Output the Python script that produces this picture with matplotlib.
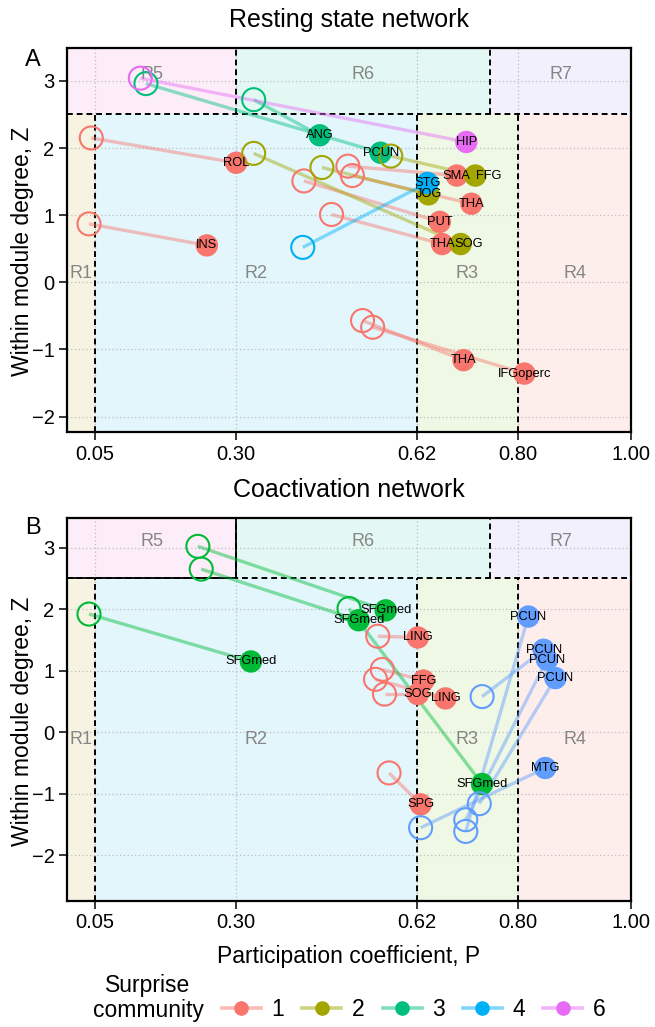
import matplotlib
matplotlib.use("Agg")
import matplotlib.pyplot as plt
import matplotlib.colors as mcolors
from matplotlib.lines import Line2D
from matplotlib.patches import Rectangle

plt.rcParams["font.family"] = ["Liberation Sans", "DejaVu Sans"]

# --- role cartography boundaries --------------------------------------------
P_MIN, P_MAX = 0.0, 1.0
P_NONHUB = [0.05, 0.62, 0.80]   # R1 | R2 | R3 | R4
P_HUB = [0.30, 0.75]            # R5 | R6 | R7
Z_HUB = 2.5
X_TICKS = [0.05, 0.30, 0.62, 0.80, 1.00]
Y_TICKS = [-2, -1, 0, 1, 2, 3]
NONHUB_NAMES = ["R1", "R2", "R3", "R4"]
HUB_NAMES = ["R5", "R6", "R7"]
NONHUB_FILL = ["#F7F3E2", "#E2F6FC", "#EEF8E4", "#FDEEEC"]
HUB_FILL = ["#FCEDF8", "#E3F8F2", "#F1F0FC"]

COLORS_A = {1: "#F8766D", 2: "#A3A500", 3: "#00BF7D", 4: "#00B0F6", 6: "#E76BF3"}
COLORS_B = {1: "#F8766D", 3: "#00BA38", 4: "#619CFF"}

# --- panel A: resting state network (open = before, filled = after) --------
A_comm = [1, 1, 1, 1, 1, 1, 1, 1, 2, 2, 2, 3, 3, 4, 6]
A_p_from = [0.043, 0.039, 0.498, 0.506, 0.420, 0.469, 0.524, 0.542,
            0.331, 0.452, 0.574, 0.140, 0.331, 0.418, 0.130]
A_z_from = [2.15, 0.87, 1.73, 1.59, 1.51, 1.01, -0.57, -0.67,
            1.92, 1.71, 1.88, 2.96, 2.72, 0.52, 3.04]
A_p_to = [0.300, 0.248, 0.691, 0.717, 0.661, 0.665, 0.703, 0.811,
          0.698, 0.641, 0.724, 0.556, 0.448, 0.639, 0.708]
A_z_to = [1.78, 0.55, 1.59, 1.17, 0.90, 0.57, -1.16, -1.36,
          0.57, 1.31, 1.59, 1.93, 2.19, 1.48, 2.09]
A_label = ["ROL", "INS", "SMA", "THA", "PUT", "THA", "THA", "IFGoperc",
           "SOG", "JOG", "FFG", "PCUN", "ANG", "STG", "HIP"]

# --- panel B: coactivation network -------------------------------------------
B_comm = [1, 1, 1, 1, 1, 3, 3, 3, 3, 4, 4, 4, 4, 4]
B_p_from = [0.551, 0.559, 0.547, 0.563, 0.571,
            0.039, 0.232, 0.238, 0.500,
            0.736, 0.627, 0.731, 0.707, 0.707]
B_z_from = [1.56, 1.02, 0.86, 0.62, -0.66,
            1.92, 3.02, 2.65, 2.01,
            0.58, -1.55, -1.16, -1.42, -1.61]
B_p_to = [0.622, 0.632, 0.671, 0.622, 0.627,
          0.326, 0.565, 0.517, 0.736,
          0.845, 0.848, 0.866, 0.851, 0.818]
B_z_to = [1.54, 0.84, 0.55, 0.62, -1.17,
          1.15, 1.98, 1.82, -0.84,
          1.34, -0.58, 0.88, 1.18, 1.88]
B_label = ["LING", "FFG", "LING", "SOG", "SPG",
           "SFGmed", "SFGmed", "SFGmed", "SFGmed",
           "PCUN", "MTG", "PCUN", "PCUN", "PCUN"]

LEGEND_COMM = [1, 2, 3, 4, 6]

W, H = 655, 1027


def lighten(c, amount=0.5):
    r, g, b = mcolors.to_rgb(c)
    return (r + (1 - r) * amount, g + (1 - g) * amount, b + (1 - b) * amount)


def draw_panel(ax, comm, p0, z0, p1, z1, labels, colors, ylim,
               r5_solid=False, nudge=None):
    nudge = nudge or {}
    y0, y1 = ylim
    ax.set_xlim(P_MIN, P_MAX)
    ax.set_ylim(y0, y1)

    # role regions
    edges = [P_MIN] + P_NONHUB + [P_MAX]
    for i, name in enumerate(NONHUB_NAMES):
        a, b = edges[i], edges[i + 1]
        ax.add_patch(Rectangle((a, y0), b - a, Z_HUB - y0, color=NONHUB_FILL[i],
                               lw=0, zorder=0))
        ax.text((a + b) / 2, (y0 + Z_HUB) / 2, name, ha="center", va="center",
                color="#858585", fontsize=13, zorder=1)
    edges = [P_MIN] + P_HUB + [P_MAX]
    for i, name in enumerate(HUB_NAMES):
        a, b = edges[i], edges[i + 1]
        ax.add_patch(Rectangle((a, Z_HUB), b - a, y1 - Z_HUB, color=HUB_FILL[i],
                               lw=0, zorder=0))
        ax.text((a + b) / 2, 3.1, name, ha="center", va="center",
                color="#858585", fontsize=13, zorder=1)

    # dotted grid
    for x in X_TICKS:
        ax.axvline(x, color="#BDBDBD", lw=0.9, ls=(0, (1, 2)), zorder=0.5)
    for y in Y_TICKS:
        ax.axhline(y, color="#BDBDBD", lw=0.9, ls=(0, (1, 2)), zorder=0.5)

    # dashed boundaries
    dash = dict(color="black", lw=1.4, ls=(0, (3, 2)), zorder=1.5)
    ax.plot([P_MIN, P_MAX], [Z_HUB, Z_HUB], **dash)
    for x in P_NONHUB:
        ax.plot([x, x], [y0, Z_HUB], **dash)
    for x in P_HUB:
        ax.plot([x, x], [Z_HUB, y1], **dash)
    if r5_solid:
        ax.plot([P_MIN, P_HUB[0], P_HUB[0]], [Z_HUB, Z_HUB, y1],
                color="black", lw=1.3, zorder=1.6)

    # trajectories
    for c, a, b, c2, d in zip(comm, p0, z0, p1, z1):
        ax.plot([a, c2], [b, d], color=colors[c], lw=2.4, alpha=0.45,
                solid_capstyle="butt", zorder=2)
    ax.scatter(p1, z1, s=260, c=[colors[c] for c in comm], lw=0, zorder=3)
    ax.scatter(p0, z0, s=275, facecolors="none",
               edgecolors=[colors[c] for c in comm], lw=1.5, zorder=4)
    for a, b, lab in zip(p1, z1, labels):
        dx = nudge.get(lab, 0)
        ax.annotate(lab, (a, b), xytext=(dx, 0), textcoords="offset points",
                    ha="center", va="center", fontsize=9.3, zorder=5)

    ax.set_xticks(X_TICKS)
    ax.set_xticklabels([f"{x:.2f}" for x in X_TICKS])
    ax.set_yticks(Y_TICKS)
    ax.set_yticklabels([str(y).replace("-", "\u2212") for y in Y_TICKS])
    ax.tick_params(length=6, width=1.1, labelsize=14.5, pad=3, direction="out")
    for s in ax.spines.values():
        s.set_linewidth(1.6)
        s.set_color("black")
        s.set_zorder(6)
    ax.set_ylabel("Within module degree, Z", fontsize=16.5)
    ax.yaxis.set_label_coords(-0.059, 0.47)


fig = plt.figure(figsize=(W / 100, H / 100), dpi=100)
left, width = 67 / W, (631 - 67) / W
axA = fig.add_axes([left, 1 - 432 / H, width, (432 - 48) / H])
axB = fig.add_axes([left, 1 - 901 / H, width, (901 - 518) / H])

draw_panel(axA, A_comm, A_p_from, A_z_from, A_p_to, A_z_to, A_label, COLORS_A,
           (-2.23, 3.49), nudge={"FFG": 10, "SOG": 6})
draw_panel(axB, B_comm, B_p_from, B_z_from, B_p_to, B_z_to, B_label, COLORS_B,
           (-2.74, 3.48), r5_solid=True)

axB.set_xlabel("Participation coefficient, P", fontsize=16.5, labelpad=9)

fig.text(349 / W, 1 - 20 / H, "Resting state network", ha="center", va="center",
         fontsize=18)
fig.text(349 / W, 1 - 490 / H, "Coactivation network", ha="center", va="center",
         fontsize=18)
fig.text(33 / W, 1 - 60 / H, "A", ha="center", va="center", fontsize=17)
fig.text(33 / W, 1 - 528 / H, "B", ha="center", va="center", fontsize=17)

# legend: title on the left, entries in one row
fig.text(148 / W, 1 - 998 / H, "Surprise\ncommunity", ha="center", va="center",
         fontsize=16.5, linespacing=1.15)
handles = [Line2D([], [], color=lighten(COLORS_A[c]), lw=2.6, marker="o",
                  markersize=9.5, markerfacecolor=COLORS_A[c],
                  markeredgecolor=COLORS_A[c]) for c in LEGEND_COMM]
fig.legend(handles, [str(c) for c in LEGEND_COMM], loc="center left",
           bbox_to_anchor=(222 / W, 1 - 1010 / H), ncol=5, frameon=False,
           fontsize=16.5, handlelength=1.7, handletextpad=0.45,
           columnspacing=0.8, borderpad=0, borderaxespad=0)

fig.savefig("out.png", dpi=100)
